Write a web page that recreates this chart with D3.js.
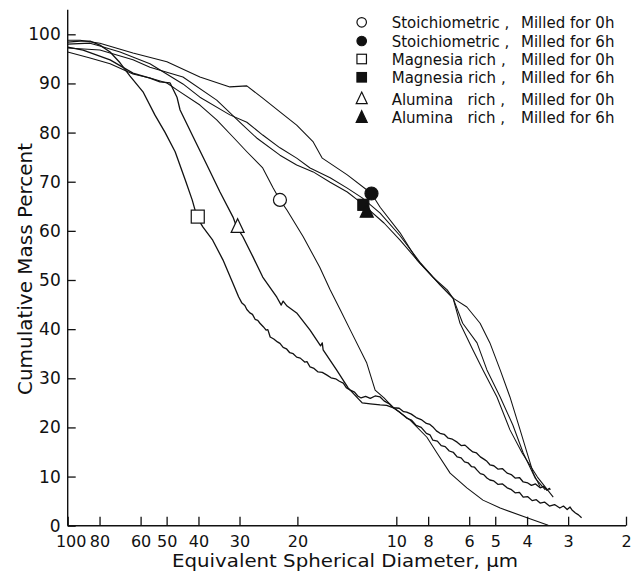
<!DOCTYPE html>
<html>
<head>
<meta charset="utf-8">
<script src="https://cdn.jsdelivr.net/npm/d3@7"></script>
<style>
  body { margin: 0; background: #fff; }
  svg text { font-family: "DejaVu Sans", sans-serif; fill: #111; }
  .legend text { white-space: pre; }
</style>
</head>
<body>
<div id="graphic"></div>
<script>
// tick values (log axis runs from 100 down to 2)
const xTicks = [100, 80, 60, 50, 40, 30, 20, 10, 8, 6, 5, 4, 3, 2];
const yTicks = [0, 10, 20, 30, 40, 50, 60, 70, 80, 90, 100];

// [diameter µm, cumulative mass %]
const stoich0h = [[100,96.4],[85.5,95.2],[74.3,94.0],[63.3,91.9],[56.2,91.1],[49.9,90.1],[46.5,88.7],[39.6,85.6],[35.2,82.6],[31.4,79.1],[28.5,76.1],[25.5,72.8],[23.7,68.7],[22.6,66.3],[21.5,64.2],[19.2,58.8],[17.1,52.6],[15.9,48.0],[14.8,43.9],[13.8,39.8],[12.3,33.1],[11.6,27.6],[10.9,26.0],[10.2,24.0],[9.08,21.5],[8.07,18.0],[7.52,14.8],[6.86,10.7],[6.10,7.7],[5.45,5.2],[4.83,3.6],[4.00,1.6],[3.45,0.1]];

const stoich6h = [[100,98.8],[91.7,98.8],[79.8,98.2],[63.3,96.2],[49.9,94.4],[39.6,91.3],[32.1,89.3],[28.5,89.5],[25.5,87.0],[22.6,84.2],[20.1,81.5],[17.9,78.1],[16.8,74.8],[14.1,71.4],[11.9,67.6],[11.2,64.8],[9.74,59.6],[8.65,54.1],[7.74,50.6],[7.0,48.0],[6.72,46.3],[6.10,44.5],[5.56,41.2],[5.19,37.2],[4.83,31.7],[4.51,26.2],[4.20,19.5],[4.00,14.8],[3.83,10.7],[3.65,7.9]];

const magnesia0h = [[100,98.4],[91.7,98.6],[85.5,98.6],[79.8,97.8],[74.3,96.4],[69.3,94.2],[64.6,91.5],[59.0,88.3],[54.3,83.6],[50.6,80.1],[47.1,76.1],[43.9,70.4],[41.8,66.3],[40.4,62.8],[38.8,60.8],[36.2,58.1],[33.7,54.1],[31.4,49.3],[30.2,46.6],[29.5,45.3],
  [28.9,44.8],[28.5,44.0],[27.9,43.3],[27.4,43.0],[26.9,42.0],[26.4,41.8],[26.0,41.2],[25.4,40.5],[24.9,39.8],[24.6,39.9],[24.2,38.4],[23.6,38.0],[23.0,37.4],[22.6,37.1],[22.1,36.3],[21.6,36.0],[21.1,35.2],[20.6,35.0],[20.1,34.3],[19.6,34.1],[19.0,33.3],[18.7,33.4],[18.3,32.3],[17.8,32.0],[17.3,31.3],[16.8,31.2],[16.3,30.7],[15.8,30.1],[15.3,29.9],[14.9,29.4],[14.5,29.0],[14.2,28.1],[13.8,27.6],[13.4,27.2],[13.1,26.4],[12.8,26.0],[12.4,26.3],[12.0,25.9],[11.6,26.4],[11.2,26.2],[10.9,25.4],[10.5,24.8],[10.2,24.0],[9.8,23.9],[9.5,23.2],[9.3,23.1],[9.0,22.7],[8.7,22.0],[8.4,21.6],[8.1,20.8],[7.9,20.6],[7.74,20.1],[7.55,19.3],[7.36,18.8],[7.15,18.6],[6.95,17.8],[6.75,17.6],[6.53,17.0],[6.35,16.3],[6.18,16.4],[6.0,15.6],[5.85,15.0],[5.7,14.8],[5.55,14.0],[5.4,13.5],[5.3,13.1],[5.19,12.4],[5.05,12.2],[4.9,11.5],[4.75,11.6],[4.6,10.7],[4.47,10.4],[4.35,9.7],[4.22,9.8],[4.11,8.9],[3.98,8.7],[3.88,8.2],[3.77,8.5],[3.65,7.7],[3.56,8.0],[3.48,7.2],[3.42,7.6],[3.40,7.3]];

const magnesia6h = [[100,98.0],[85.5,98.2],[79.8,97.6],[69.3,96.4],[56.2,94.0],[44.6,89.9],[39.6,87.2],[32.1,83.6],[28.5,82.1],[25.5,79.5],[22.6,76.9],[20.1,74.8],[18.3,72.8],[15.9,70.8],[14.1,68.7],[12.7,66.7],[11.2,63.6],[9.74,59.0],[8.47,53.6],[7.36,49.0],[6.72,46.3],[6.28,41.2],[5.68,37.2],[5.30,31.7],[4.83,26.2],[4.42,20.5],[4.11,14.8],[3.78,9.7],[3.52,7.3]];

const alumina0h = [[100,97.4],[89.8,96.8],[74.3,94.8],[63.3,92.1],[56.2,91.1],[52.4,90.3],[48.8,90.1],[46.5,87.2],[45.5,84.6],[41.5,79.1],[37.7,73.4],[34.4,67.9],[31.4,62.8],[30.6,60.8],[29.3,58.8],[27.3,54.7],[25.5,50.6],[23.1,46.5],[22.4,44.9],[22.1,45.7],[21.5,44.7],[20.1,43.3],[18.3,39.8],[17.0,36.6],[16.8,37.2],[16.7,35.8],[15.2,31.7],[14.0,28.0],[12.7,25.0],[12.0,24.8],[11.2,24.6],[10.7,24.5],[10.2,24.0],
  [9.8,23.2],[9.3,21.9],[9.0,21.5],[8.7,20.4],[8.4,20.0],[8.1,18.8],[7.9,18.5],[7.74,17.4],[7.5,17.2],[7.3,16.3],[7.1,16.1],[6.9,15.2],[6.7,14.9],[6.53,14.0],[6.35,13.8],[6.2,13.0],[6.05,12.8],[5.9,12.0],[5.78,11.9],[5.68,11.3],[5.55,10.6],[5.42,10.4],[5.3,9.7],[5.19,9.3],[5.05,9.1],[4.9,8.4],[4.75,8.5],[4.6,7.7],[4.48,7.4],[4.35,6.7],[4.22,6.8],[4.11,5.8],[3.98,5.9],[3.86,5.1],[3.75,5.3],[3.65,4.6],[3.54,4.8],[3.42,4.0],[3.3,4.3],[3.18,3.6],[3.1,4.0],[3.02,3.3],[2.96,3.8],[2.92,3.2],[2.85,2.6],[2.79,2.2],[2.73,1.6]];

const alumina6h = [[100,97.2],[79.8,96.8],[63.3,94.8],[56.2,93.3],[44.6,91.3],[35.2,86.6],[29.3,81.5],[26.6,78.9],[22.6,75.4],[20.1,73.4],[17.9,72.0],[15.9,69.9],[14.1,67.9],[12.9,65.9],[10.9,61.6],[9.74,58.1],[8.47,53.4],[7.36,49.0],[6.72,46.3],[6.40,41.2],[5.85,35.8],[5.45,31.7],[4.94,26.2],[4.51,19.5],[4.14,14.8],[3.72,9.9],[3.33,5.8]];

// marker positions [diameter, %]
const stoich0hMarker = [22.6, 66.3];
const stoich6hMarker = [11.9, 67.6];
const magnesia0hMarker = [40.2, 62.9];
const magnesia6hMarker = [12.6, 65.3];
const alumina0hMarker = [30.4, 60.8];
const alumina6hMarker = [12.3, 63.9];

const legendNames = ["Stoichiometric ,", "Stoichiometric ,", "Magnesia rich ,", "Magnesia rich ,", "Alumina   rich ,", "Alumina   rich ,"];
const legendMilled = ["Milled for 0h", "Milled for 6h", "Milled for 0h", "Milled for 6h", "Milled for 0h", "Milled for 6h"];

const width = 633, height = 579;

const x = d3.scaleLog().domain([100, 2]).range([67.7, 626]);
const y = d3.scaleLinear().domain([0, 100]).range([525.7, 34.3]);

const svg = d3.select('#graphic').append('svg')
  .attr('width', width)
  .attr('height', height);

// marker shapes: circle, square, triangle; filled or open
function drawMarker(g, shape, filled, cx, cy, s) {
  const fill = filled ? '#111' : '#fff';
  if (shape === 'circle') {
    g.append('circle').attr('cx', cx).attr('cy', cy).attr('r', s / 2)
      .attr('fill', fill).attr('stroke', '#111').attr('stroke-width', 1.2);
  } else if (shape === 'square') {
    g.append('rect').attr('x', cx - s / 2).attr('y', cy - s / 2).attr('width', s).attr('height', s)
      .attr('fill', fill).attr('stroke', '#111').attr('stroke-width', 1.2);
  } else {
    const h = s * 1.05;
    g.append('path')
      .attr('d', `M${cx},${cy - h * 0.6}L${cx + s / 2},${cy + h * 0.4}L${cx - s / 2},${cy + h * 0.4}Z`)
      .attr('fill', fill).attr('stroke', '#111').attr('stroke-width', 1.2);
  }
}

const series = [
  { data: stoich0h, marker: stoich0hMarker, shape: 'circle', filled: false, noisy: false },
  { data: stoich6h, marker: stoich6hMarker, shape: 'circle', filled: true, noisy: false },
  { data: magnesia0h, marker: magnesia0hMarker, shape: 'square', filled: false, noisy: true },
  { data: magnesia6h, marker: magnesia6hMarker, shape: 'square', filled: true, noisy: false },
  { data: alumina0h, marker: alumina0hMarker, shape: 'triangle', filled: false, noisy: true },
  { data: alumina6h, marker: alumina6hMarker, shape: 'triangle', filled: true, noisy: false }
];

const line = d3.line()
  .x(d => x(d[0]))
  .y(d => y(d[1]));

const lines = svg.append('g').attr('class', 'lines');
series.forEach(s => {
  lines.append('path')
    .datum(s.data)
    .attr('fill', 'none')
    .attr('stroke', '#111')
    .attr('stroke-width', s.noisy ? 1.3 : 1.05)
    .attr('stroke-linejoin', 'round')
    .attr('d', line);
});

// axes
const xAxis = svg.append('g')
  .attr('class', 'x axis')
  .attr('transform', `translate(0, ${y(0)})`)
  .call(d3.axisBottom(x)
    .tickValues(xTicks)
    .tickSize(-9)
    .tickSizeOuter(0)
    .tickPadding(10)
    .tickFormat(d3.format('d')));

xAxis.select('.domain').remove();
xAxis.selectAll('line').attr('stroke', '#111').attr('stroke-width', 1.3);
xAxis.selectAll('text').attr('font-size', 16).attr('fill', '#111')
  .attr('dx', d => d === 100 ? 3 : 0);

const yAxis = svg.append('g')
  .attr('class', 'y axis')
  .attr('transform', `translate(${x(100)}, 0)`)
  .call(d3.axisLeft(y)
    .tickValues(yTicks)
    .tickSize(-8)
    .tickSizeOuter(0)
    .tickPadding(7));

yAxis.select('.domain').remove();
yAxis.selectAll('line').attr('stroke', '#111').attr('stroke-width', 1.3);
yAxis.selectAll('text').attr('font-size', 17).attr('fill', '#111');

svg.append('line')
  .attr('x1', x(100)).attr('x2', x(2))
  .attr('y1', y(0)).attr('y2', y(0))
  .attr('stroke', '#111').attr('stroke-width', 1.4);

svg.append('line')
  .attr('x1', x(100)).attr('x2', x(100))
  .attr('y1', y(0)).attr('y2', y(105))
  .attr('stroke', '#111').attr('stroke-width', 1.4);

// markers on curves
const markers = svg.append('g').attr('class', 'markers');
series.forEach(s => {
  drawMarker(markers, s.shape, s.filled, x(s.marker[0]), y(s.marker[1]),
    s.shape === 'circle' ? 13 : (s.shape === 'square' ? (s.filled ? 11 : 13) : 13));
});

// axis titles
svg.append('text')
  .attr('x', 345)
  .attr('y', 567)
  .attr('text-anchor', 'middle')
  .attr('font-size', 18)
  .attr('textLength', 346)
  .attr('lengthAdjust', 'spacingAndGlyphs')
  .text('Equivalent Spherical Diameter, µm');

svg.append('text')
  .attr('transform', 'translate(32, 269) rotate(-90)')
  .attr('text-anchor', 'middle')
  .attr('font-size', 19)
  .attr('textLength', 252)
  .attr('lengthAdjust', 'spacingAndGlyphs')
  .text('Cumulative Mass Percent');

// legend
const legendY = [22.3, 41, 59, 77.3, 99, 117.7];
const legend = svg.append('g').attr('class', 'legend');
series.forEach((s, i) => {
  drawMarker(legend, s.shape, s.filled, 361.7, legendY[i],
    s.shape === 'circle' ? 9.5 : (s.shape === 'square' ? 9.5 : 11));
  legend.append('text')
    .attr('x', 391.7)
    .attr('y', legendY[i] + 5.5)
    .attr('font-size', 15)
    .text(legendNames[i]);
  legend.append('text')
    .attr('x', 521)
    .attr('y', legendY[i] + 5.5)
    .attr('font-size', 15)
    .text(legendMilled[i]);
});
</script>
</body>
</html>
